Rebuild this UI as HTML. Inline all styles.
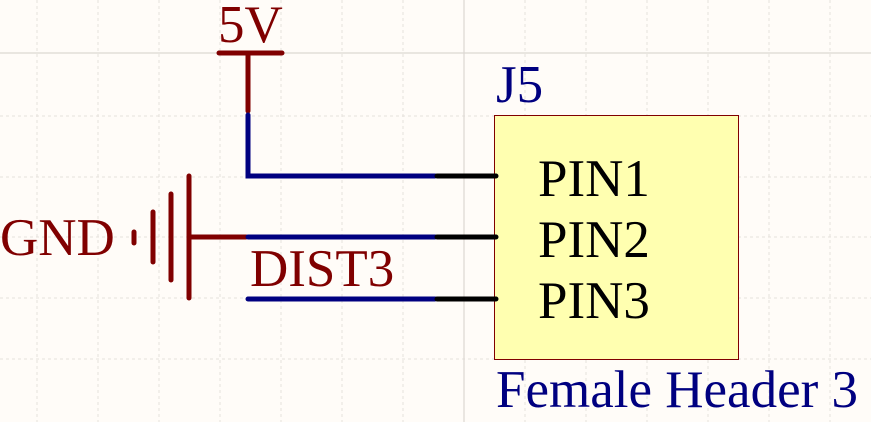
<!DOCTYPE html>
<html><head><meta charset="utf-8"><style>
html,body{margin:0;padding:0;background:#fffcf8;}
svg{display:block;}
svg text{font-family:"Liberation Serif","DejaVu Serif",serif !important;}
</style></head><body>
<svg width="871" height="422" viewBox="0 0 871 422">
<g stroke="#e6e2dc" stroke-width="1" stroke-dasharray="3,3">
<line x1="37" y1="0" x2="37" y2="422"/><line x1="98" y1="0" x2="98" y2="422"/><line x1="159" y1="0" x2="159" y2="422"/><line x1="220" y1="0" x2="220" y2="422"/><line x1="281" y1="0" x2="281" y2="422"/><line x1="342" y1="0" x2="342" y2="422"/><line x1="403" y1="0" x2="403" y2="422"/><line x1="525" y1="0" x2="525" y2="422"/><line x1="586" y1="0" x2="586" y2="422"/><line x1="647" y1="0" x2="647" y2="422"/><line x1="708" y1="0" x2="708" y2="422"/><line x1="769" y1="0" x2="769" y2="422"/><line x1="830" y1="0" x2="830" y2="422"/>
<line x1="0" y1="116" x2="871" y2="116"/><line x1="0" y1="177" x2="871" y2="177"/><line x1="0" y1="237" x2="871" y2="237"/><line x1="0" y1="298" x2="871" y2="298"/><line x1="0" y1="359" x2="871" y2="359"/>
</g>
<line x1="0" y1="53" x2="871" y2="53" stroke="#dcd8d2" stroke-width="1.2"/>
<line x1="464" y1="0" x2="464" y2="422" stroke="#dcd8d2" stroke-width="1.2"/>

<g stroke="#800000" stroke-width="5" stroke-linecap="round">
<line x1="219" y1="53" x2="282" y2="53"/><line x1="248" y1="53" x2="248" y2="111"/>
</g>
<text x="218" y="42" font-family="Liberation Serif, serif" font-size="53" fill="#800000">5V</text>

<g stroke="#800000" stroke-width="5" stroke-linecap="round">
<line x1="134" y1="232" x2="134" y2="243"/><line x1="153" y1="212" x2="153" y2="262"/><line x1="171" y1="194" x2="171" y2="280"/><line x1="189" y1="176" x2="189" y2="298"/><line x1="189" y1="237" x2="246" y2="237"/>
</g>
<text x="0" y="255" font-family="Liberation Serif, serif" font-size="53" fill="#800000">GND</text>

<g stroke="#000080" stroke-width="5" stroke-linecap="round" fill="none">
<polyline points="248,115 248,176 435,176"/><line x1="248" y1="237" x2="435" y2="237"/><line x1="248" y1="299" x2="435" y2="299"/>
</g>
<text x="250" y="286" font-family="Liberation Serif, serif" font-size="53" fill="#800000">DIST3</text>

<rect x="494.5" y="115.5" width="244" height="244" fill="#ffffb0" stroke="#800000" stroke-width="1"/>
<g stroke="#000" stroke-width="5" stroke-linecap="round">
<line x1="437" y1="176" x2="496" y2="176"/><line x1="437" y1="237" x2="496" y2="237"/><line x1="437" y1="299" x2="496" y2="299"/>
</g>
<text x="538" y="196" font-family="Liberation Serif, serif" font-size="53" fill="#000">PIN1</text>
<text x="538" y="257" font-family="Liberation Serif, serif" font-size="53" fill="#000">PIN2</text>
<text x="538" y="318" font-family="Liberation Serif, serif" font-size="53" fill="#000">PIN3</text>
<text x="496" y="102" font-family="Liberation Serif, serif" font-size="53" fill="#000080">J5</text>
<text x="496" y="407" font-family="Liberation Serif, serif" font-size="53" fill="#000080">Female Header 3</text>
</svg>
</body></html>
